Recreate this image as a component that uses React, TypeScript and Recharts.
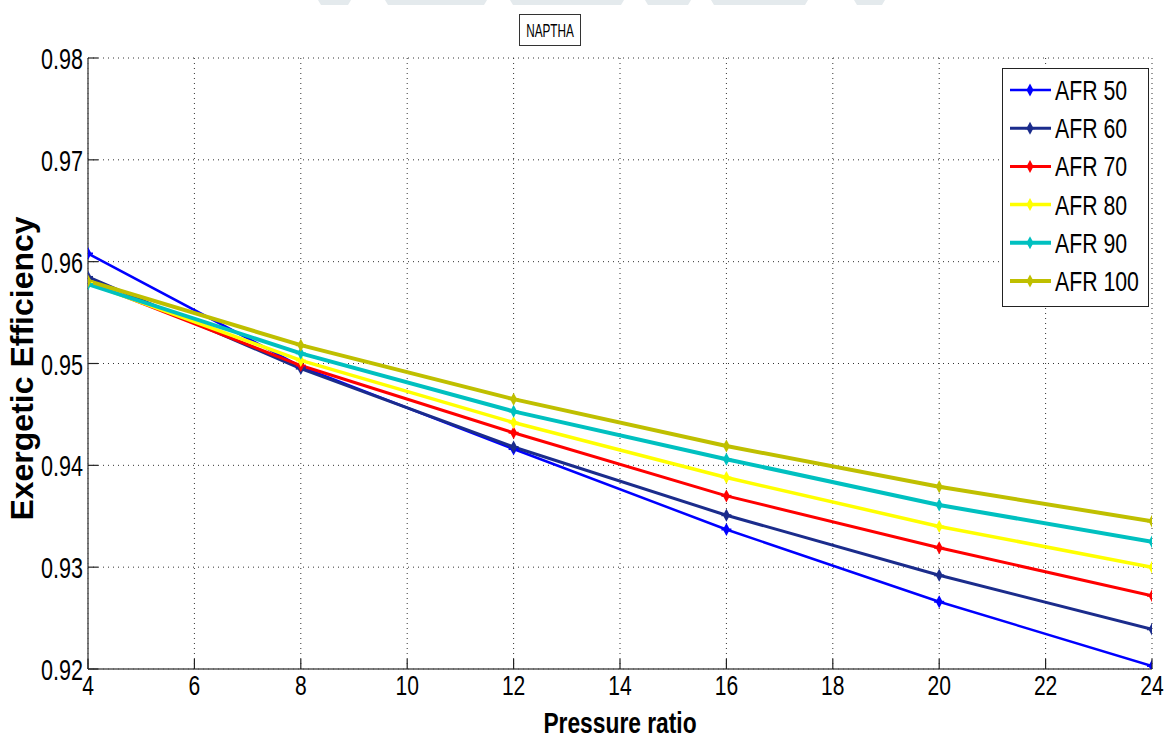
import React from 'react';
import { LineChart, Line, XAxis, YAxis, CartesianGrid, Legend } from 'recharts';

// ---- data ----
const pressureRatios = [4, 8, 12, 16, 20, 24];
const afr50 = [0.9608, 0.9497, 0.9416, 0.9337, 0.9266, 0.9203];
const afr60 = [0.9585, 0.9495, 0.9418, 0.9351, 0.9292, 0.9239];
const afr70 = [0.958, 0.9498, 0.9432, 0.937, 0.9319, 0.9272];
const afr80 = [0.9579, 0.9503, 0.9442, 0.9388, 0.934, 0.93];
const afr90 = [0.9578, 0.951, 0.9453, 0.9406, 0.9361, 0.9325];
const afr100 = [0.9581, 0.9518, 0.9465, 0.9419, 0.9379, 0.9345];

const xTicks = [4, 6, 8, 10, 12, 14, 16, 18, 20, 22, 24];
const yTicks = [0.92, 0.93, 0.94, 0.95, 0.96, 0.97, 0.98];

const seriesKeys = ['afr50', 'afr60', 'afr70', 'afr80', 'afr90', 'afr100'];
const seriesNames = ['AFR 50', 'AFR 60', 'AFR 70', 'AFR 80', 'AFR 90', 'AFR 100'];
const seriesValues = [afr50, afr60, afr70, afr80, afr90, afr100];
const seriesColors = ['#0000FF', '#1B2C8C', '#FF0000', '#FFFF00', '#00C0C0', '#BFBF00'];
const seriesWidths = [2.5, 3, 3, 3.5, 4, 4];

const titleText = 'NAPTHA';
const xLabelText = 'Pressure ratio';
const yLabelText = 'Exergetic Efficiency';

const data = pressureRatios.map((p, i) => {
  const row: any = { p };
  seriesKeys.forEach((k, s) => {
    row[k] = seriesValues[s][i];
  });
  return row;
});

const FONT = '"Liberation Sans", Arial, Helvetica, sans-serif';
const SQ = 0.72;

const BottomTick = (props: any) => {
  const { x, y, payload } = props;
  return (
    <g>
      <line x1={x} y1={y} x2={x} y2={y - 10} stroke="#222" strokeWidth={1.2} />
      <text
        transform={`translate(${x},${y + 26}) scale(0.78,1)`}
        textAnchor="middle"
        fontSize={27}
        fontFamily={FONT}
        fill="#000"
      >
        {payload.value}
      </text>
    </g>
  );
};

const TopTick = (props: any) => {
  const { x, y } = props;
  return <line x1={x} y1={y} x2={x} y2={y + 10} stroke="#222" strokeWidth={1.2} />;
};

const LeftTick = (props: any) => {
  const { x, y, payload } = props;
  return (
    <g>
      <line x1={x} y1={y} x2={x + 10} y2={y} stroke="#222" strokeWidth={1.2} />
      <text
        transform={`translate(${x - 5},${y + 11}) scale(${SQ},1)`}
        textAnchor="end"
        fontSize={30}
        fontFamily={FONT}
        fill="#000"
      >
        {Number(payload.value).toFixed(2)}
      </text>
    </g>
  );
};

const RightTick = (props: any) => {
  const { x, y } = props;
  return <line x1={x} y1={y} x2={x - 10} y2={y} stroke="#222" strokeWidth={1.2} />;
};

const Marker = (props: any) => {
  const { cx, cy, color } = props;
  if (cx == null || cy == null) return <g />;
  return (
    <g>
      <polygon
        points={`${cx},${cy - 6.5} ${cx + 3.5},${cy} ${cx},${cy + 6.5} ${cx - 3.5},${cy}`}
        fill={color}
      />
      <line x1={cx - 5} x2={cx + 5} y1={cy} y2={cy} stroke={color} strokeWidth={2} />
    </g>
  );
};

const XLabel = (props: any) => {
  const vb = props.viewBox || { x: 88, y: 669, width: 1064, height: 60 };
  const cx = vb.x + vb.width / 2;
  const by = vb.y + 64;
  return (
    <text
      transform={`translate(${cx},${by}) scale(0.76,1)`}
      textAnchor="middle"
      fontSize={30}
      fontWeight="bold"
      fontFamily={FONT}
      fill="#000"
    >
      {xLabelText}
    </text>
  );
};

const YLabel = (props: any) => {
  const vb = props.viewBox || { x: 8, y: 58, width: 80, height: 611 };
  const cy = vb.y + vb.height / 2 + 5;
  const bx = 33;
  return (
    <text
      transform={`translate(${bx},${cy}) rotate(-90)`}
      textAnchor="middle"
      fontSize={32}
      fontWeight="bold"
      fontFamily={FONT}
      fill="#000"
    >
      {yLabelText}
    </text>
  );
};

const LegendBox = () => {
  const w = 147;
  const h = 239;
  return (
    <svg width={w} height={h} style={{ display: 'block' }}>
      <rect x={0.5} y={0.5} width={w - 1} height={h - 1} fill="#fff" stroke="#222" strokeWidth={1} />
      {seriesNames.map((name, i) => {
        const cy = 22 + i * 38.2;
        return (
          <g key={name}>
            <line x1={8} x2={49} y1={cy} y2={cy} stroke={seriesColors[i]} strokeWidth={seriesWidths[i]} />
            <Marker cx={28} cy={cy} color={seriesColors[i]} />
            <text
              transform={`translate(53,${cy + 10}) scale(0.76,1)`}
              fontSize={28}
              fontFamily={FONT}
              fill="#000"
            >
              {name}
            </text>
          </g>
        );
      })}
    </svg>
  );
};

const watermark = [
  [318, 351],
  [385, 487],
  [510, 624],
  [645, 691],
  [711, 808],
  [854, 885],
];

export default function App() {
  return (
    <div style={{ position: 'absolute', left: 0, top: 0, width: 1170, height: 740, background: '#fff' }}>
      <svg width={1170} height={10} style={{ position: 'absolute', left: 0, top: 0 }}>
        {watermark.map(([a, b], i) => (
          <polygon key={i} points={`${a},0 ${b},0 ${b - 3},5 ${a + 3},5`} fill="#e4eaed" />
        ))}
      </svg>
      <svg width={62} height={32} style={{ position: 'absolute', left: 519, top: 14 }}>
        <rect x={0.5} y={0.5} width={61} height={31} fill="#fff" stroke="#333" strokeWidth={1} />
        <text
          transform={`translate(31,23) scale(0.62,1)`}
          textAnchor="middle"
          fontSize={19}
          fontFamily={FONT}
          fill="#000"
        >
          {titleText}
        </text>
      </svg>
      <LineChart
        width={1170}
        height={740}
        data={data}
        margin={{ top: 58, right: 18, bottom: 11, left: 8 }}
        style={{ position: 'absolute', left: 0, top: 0 }}
      >
        <CartesianGrid xAxisId="b" yAxisId="l" stroke="#333" strokeDasharray="1 4" strokeWidth={1} />
        <XAxis
          xAxisId="b"
          dataKey="p"
          type="number"
          domain={[4, 24]}
          ticks={xTicks}
          interval={0}
          allowDataOverflow
          height={60}
          tickSize={0}
          tickMargin={0}
          tickLine={false}
          axisLine={{ stroke: '#555', strokeWidth: 1.5 }}
          tick={(p: any) => <BottomTick {...p} />}
          label={(p: any) => <XLabel {...p} />}
        />
        <XAxis
          xAxisId="t"
          orientation="top"
          dataKey="p"
          type="number"
          domain={[4, 24]}
          ticks={xTicks}
          interval={0}
          allowDataOverflow
          height={0}
          tickSize={0}
          tickMargin={0}
          tickLine={false}
          axisLine={{ stroke: '#555', strokeWidth: 1.5 }}
          tick={(p: any) => <TopTick {...p} />}
        />
        <YAxis
          yAxisId="l"
          type="number"
          domain={[0.92, 0.98]}
          ticks={yTicks}
          interval={0}
          allowDataOverflow
          width={80}
          tickSize={0}
          tickMargin={0}
          tickLine={false}
          axisLine={{ stroke: '#555', strokeWidth: 1.5 }}
          tick={(p: any) => <LeftTick {...p} />}
          label={(p: any) => <YLabel {...p} />}
        />
        <YAxis
          yAxisId="r"
          orientation="right"
          type="number"
          domain={[0.92, 0.98]}
          ticks={yTicks}
          interval={0}
          allowDataOverflow
          width={0}
          tickSize={0}
          tickMargin={0}
          tickLine={false}
          axisLine={{ stroke: '#555', strokeWidth: 1.5 }}
          tick={(p: any) => <RightTick {...p} />}
        />
        {seriesKeys.map((k, i) => (
          <Line
            key={k}
            xAxisId="b"
            yAxisId="l"
            type="linear"
            dataKey={k}
            name={seriesNames[i]}
            stroke={seriesColors[i]}
            strokeWidth={seriesWidths[i]}
            strokeLinejoin="round"
            isAnimationActive={false}
            activeDot={false}
            dot={(p: any) => <Marker key={`${k}-${p.index}`} cx={p.cx} cy={p.cy} color={seriesColors[i]} />}
          />
        ))}
        <Legend
          layout="vertical"
          align="center"
          verticalAlign="middle"
          wrapperStyle={{ position: 'absolute', left: 1002, top: 68, width: 147, height: 239 }}
          content={() => <LegendBox />}
        />
      </LineChart>
    </div>
  );
}
